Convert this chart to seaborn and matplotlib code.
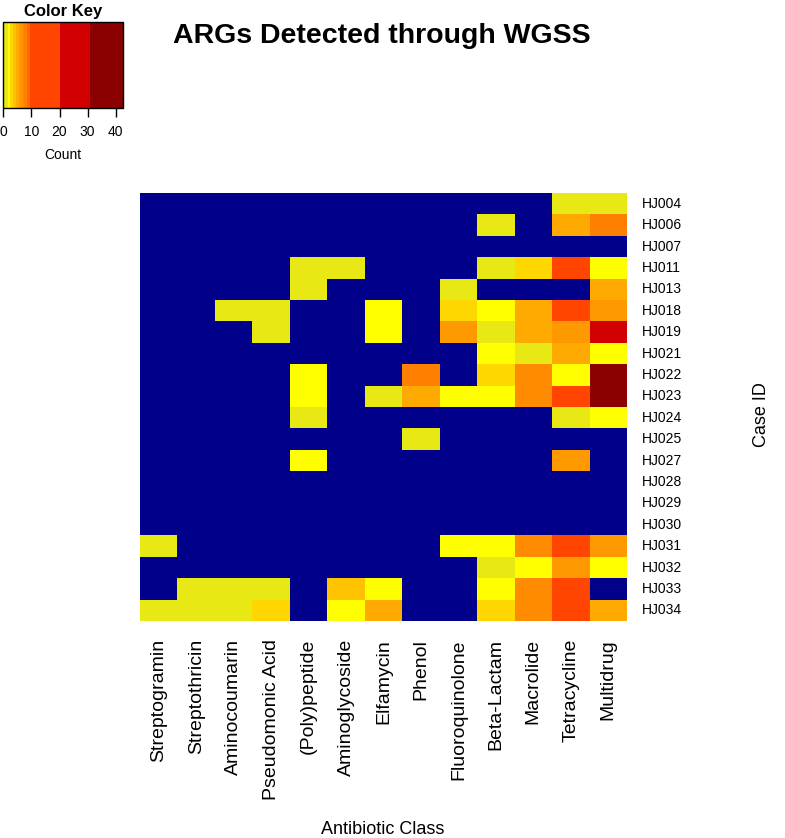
import numpy as np
import pandas as pd
import matplotlib
matplotlib.use("Agg")
import matplotlib.pyplot as plt
from matplotlib.colors import ListedColormap, BoundaryNorm
import seaborn as sns

sns.set_style("white")
plt.rcParams["font.family"] = ["Liberation Sans", "DejaVu Sans"]
plt.rcParams["text.color"] = "black"
plt.rcParams["axes.labelcolor"] = "black"
plt.rcParams["xtick.color"] = "black"
plt.rcParams["ytick.color"] = "black"

antibiotic_classes = ["Streptogramin", "Streptothricin", "Aminocoumarin", "Pseudomonic Acid",
                      "(Poly)peptide", "Aminoglycoside", "Elfamycin", "Phenol",
                      "Fluoroquinolone", "Beta-Lactam", "Macrolide", "Tetracycline", "Multidrug"]
case_ids = ["HJ004", "HJ006", "HJ007", "HJ011", "HJ013", "HJ018", "HJ019", "HJ021",
            "HJ022", "HJ023", "HJ024", "HJ025", "HJ027", "HJ028", "HJ029", "HJ030",
            "HJ031", "HJ032", "HJ033", "HJ034"]

HJ004 = [0, 0, 0, 0, 0, 0, 0, 0, 0, 0, 0, 1, 1]
HJ006 = [0, 0, 0, 0, 0, 0, 0, 0, 0, 1, 0, 5, 8]
HJ007 = [0, 0, 0, 0, 0, 0, 0, 0, 0, 0, 0, 0, 0]
HJ011 = [0, 0, 0, 0, 1, 1, 0, 0, 0, 1, 3, 12, 2]
HJ013 = [0, 0, 0, 0, 1, 0, 0, 0, 1, 0, 0, 0, 5]
HJ018 = [0, 0, 1, 1, 0, 0, 2, 0, 3, 2, 5, 11, 6]
HJ019 = [0, 0, 0, 1, 0, 0, 2, 0, 6, 1, 5, 6, 22]
HJ021 = [0, 0, 0, 0, 0, 0, 0, 0, 0, 2, 1, 5, 2]
HJ022 = [0, 0, 0, 0, 2, 0, 0, 8, 0, 3, 7, 2, 35]
HJ023 = [0, 0, 0, 0, 2, 0, 1, 5, 2, 2, 7, 12, 40]
HJ024 = [0, 0, 0, 0, 1, 0, 0, 0, 0, 0, 0, 1, 2]
HJ025 = [0, 0, 0, 0, 0, 0, 0, 1, 0, 0, 0, 0, 0]
HJ027 = [0, 0, 0, 0, 2, 0, 0, 0, 0, 0, 0, 6, 0]
HJ028 = [0, 0, 0, 0, 0, 0, 0, 0, 0, 0, 0, 0, 0]
HJ029 = [0, 0, 0, 0, 0, 0, 0, 0, 0, 0, 0, 0, 0]
HJ030 = [0, 0, 0, 0, 0, 0, 0, 0, 0, 0, 0, 0, 0]
HJ031 = [1, 0, 0, 0, 0, 0, 0, 0, 2, 2, 7, 12, 6]
HJ032 = [0, 0, 0, 0, 0, 0, 0, 0, 0, 1, 2, 6, 2]
HJ033 = [0, 1, 1, 1, 0, 4, 2, 0, 0, 2, 7, 12, 0]
HJ034 = [1, 1, 1, 3, 0, 2, 5, 0, 0, 3, 7, 12, 5]

rows = [HJ004, HJ006, HJ007, HJ011, HJ013, HJ018, HJ019, HJ021, HJ022, HJ023,
        HJ024, HJ025, HJ027, HJ028, HJ029, HJ030, HJ031, HJ032, HJ033, HJ034]
df = pd.DataFrame(rows, index=case_ids, columns=antibiotic_classes)

key_breaks = [0, 0.25, 1.5, 2.5, 3.5, 4.5, 5.5, 6.5, 7.5, 8.5, 9.6, 20, 31, 42.7]
key_colors = ["#00008B", "#E8E814", "#FFFF00", "#FFD700", "#FFC200", "#FFAA00",
              "#FF9900", "#FF8C00", "#FF7F00", "#FF6A00", "#FF4500", "#D20000", "#8B0000"]
cmap = ListedColormap(key_colors)
norm = BoundaryNorm(key_breaks, cmap.N)

fig = plt.figure(figsize=(7.85, 8.38), dpi=100)
W, H = 785, 838
ax = fig.add_axes([140 / W, 1 - 621 / H, 487 / W, 428 / H])
kax = fig.add_axes([3.3 / W, 1 - 108 / H, 120 / W, 85.5 / H])

sns.heatmap(df, ax=ax, cmap=cmap, norm=norm, cbar=True, cbar_ax=kax,
            cbar_kws=dict(orientation="horizontal", spacing="proportional",
                          ticks=[0, 10, 20, 30, 40]),
            linewidths=0)

ax.yaxis.tick_right()
ax.set_yticks(np.arange(len(case_ids)) + 0.5)
ax.set_yticklabels(case_ids, rotation=0, fontsize=10, va="center")
ax.set_xticks(np.arange(len(antibiotic_classes)) + 0.5)
ax.set_xticklabels(antibiotic_classes, rotation=90, fontsize=14, va="top", ha="center")
ax.tick_params(axis="y", length=0, pad=11, labelright=True, labelleft=False)
ax.tick_params(axis="x", length=0, pad=13)
ax.set_xlabel("")
ax.set_ylabel("")

cbar = ax.collections[0].colorbar
cbar.minorticks_off()
cbar.outline.set_linewidth(1.0)
cbar.outline.set_edgecolor("black")
kax.xaxis.set_ticks_position("bottom")
kax.tick_params(axis="x", which="major", direction="out", length=6.5, width=1,
                labelsize=10, pad=6, colors="black")
kax.tick_params(axis="x", which="minor", length=0)
kax.set_xlabel("Count", fontsize=10, labelpad=6)
kax.set_title("Color Key", fontsize=12, fontweight="bold", pad=5)

fig.text(381.5 / W, 1 - 36 / H, "ARGs Detected through WGSS", fontsize=20.5,
         fontweight="bold", ha="center", va="center")
fig.text(383 / W, 1 - 829 / H, "Antibiotic Class", fontsize=13, ha="center", va="center")
fig.text(762 / W, 1 - 415 / H, "Case ID", fontsize=13, ha="center", va="center",
         rotation=90)

fig.savefig("out.png", dpi=100)
